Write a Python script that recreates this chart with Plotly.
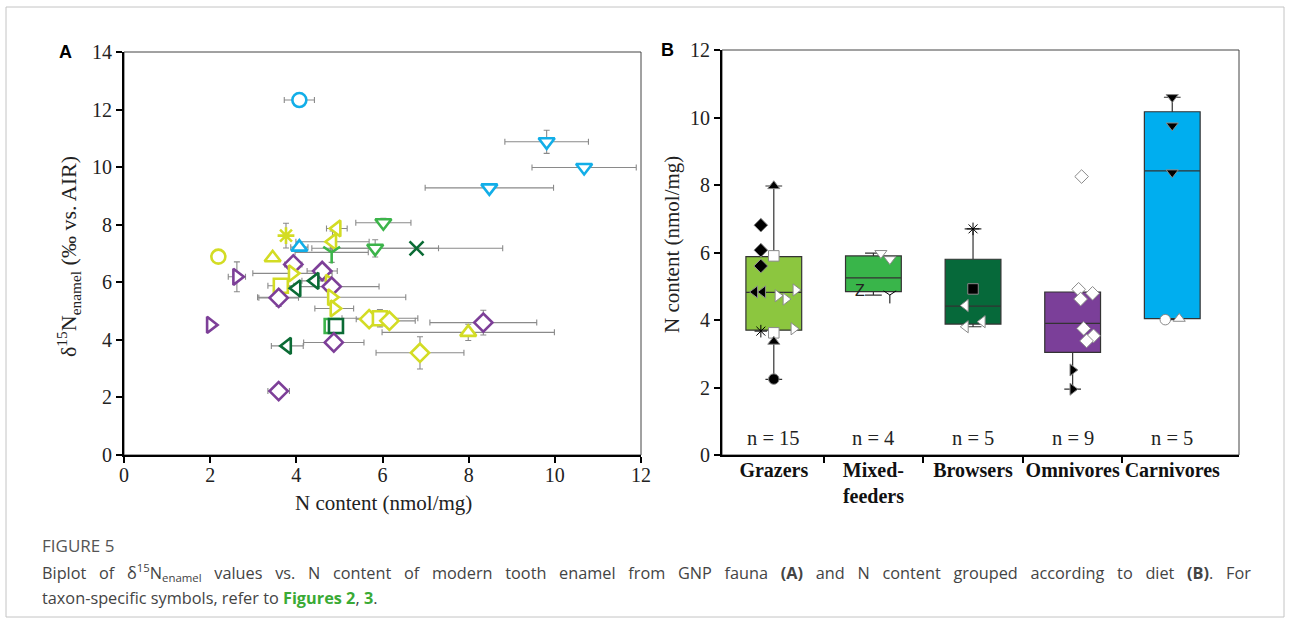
import plotly.graph_objects as go

W, H = 1290, 630

# ---------------- Panel A data: N content vs d15N enamel ----------------
a_n = [4.07, 9.81, 10.68, 8.48, 4.07,
       3.76, 2.19, 3.45, 4.94, 4.84,
       6.02, 5.83, 6.79, 4.82,
       3.93, 2.62, 3.91, 4.60, 4.43, 4.77,
       4.82, 3.64, 4.01, 3.59, 4.82, 4.88,
       2.01, 4.82, 4.92, 5.69, 5.94, 6.16,
       8.34, 7.99, 6.87, 3.79, 4.87, 3.59]
a_d15n = [12.33, 10.88, 9.99, 9.28, 7.22,
          7.62, 6.89, 6.85, 7.87, 7.41,
          8.07, 7.18, 7.18, 7.04,
          6.62, 6.19, 6.31, 6.39, 6.05, 5.98,
          5.85, 5.88, 5.79, 5.46, 5.48, 5.09,
          4.52, 4.48, 4.48, 4.72, 4.75, 4.66,
          4.60, 4.26, 3.55, 3.79, 3.91, 2.22]
a_n_err = [0.35, 0.97, 1.21, 1.49, 0.20,
           0, 0, 0, 0.24, 0.85,
           0.64, 1.47, 2.00, 0.85,
           0.20, 0.20, 0.92, 0.35, 0.30, 0,
           1.10, 0.30, 0, 0.46, 1.72, 0.45,
           0.05, 0, 0, 0.30, 0.88, 0.60,
           1.24, 2.00, 1.02, 0.37, 0.70, 0.25]
a_d15n_err = [0, 0.40, 0.10, 0.15, 0.15,
              0.43, 0, 0, 0.10, 0.37,
              0.15, 0.30, 0, 0.35,
              0, 0.52, 0, 0.15, 0, 0.20,
              0, 0, 0, 0.30, 0, 0,
              0, 0.15, 0, 0, 0.30, 0,
              0.43, 0.28, 0.56, 0, 0, 0]
a_diet = ["Carnivore"] * 5 + ["Grazer"] * 5 + ["Mixed-feeder", "Mixed-feeder", "Browser", "Mixed-feeder",
          "Omnivore", "Omnivore", "Grazer", "Omnivore", "Browser", "Grazer",
          "Omnivore", "Grazer", "Browser", "Omnivore", "Grazer", "Grazer",
          "Omnivore", "Mixed-feeder", "Browser", "Grazer", "Grazer", "Grazer",
          "Omnivore", "Grazer", "Grazer", "Browser", "Omnivore", "Omnivore"]
a_taxon = ["circle", "tri-down", "tri-down", "tri-down", "tri-up",
           "asterisk", "circle", "tri-up", "tri-left", "tri-left",
           "tri-down", "tri-down", "x", "y",
           "diamond", "tri-right", "tri-right", "diamond", "tri-left", "tri-right",
           "diamond", "square", "tri-left", "diamond", "tri-right", "tri-right",
           "tri-right", "square", "square", "diamond", "square", "diamond",
           "diamond", "tri-up", "diamond", "tri-left", "diamond", "diamond"]

# ---------------- Panel B data: N content by diet ----------------
b_groups = ["Grazers", "Mixed-<br>feeders", "Browsers", "Omnivores", "Carnivores"]
b_q1 = [3.70, 4.84, 3.88, 3.04, 4.04]
b_median = [4.82, 5.25, 4.41, 3.90, 8.42]
b_q3 = [5.88, 5.90, 5.80, 4.83, 10.17]
b_lowerfence = [2.24, 4.74, 3.80, 1.95, 4.01]
b_upperfence = [7.97, 5.98, 6.70, 4.83, 10.60]
b_counts = [15, 4, 5, 9, 5]

b_pt_group = [0] * 15 + [1] * 4 + [2] * 5 + [3] * 9 + [4] * 5
b_pt_n = [7.97, 6.81, 6.07, 5.60, 5.90, 4.83, 4.83, 4.72, 4.62, 4.89, 3.67, 3.62, 3.74, 3.36, 2.25,
          5.98, 5.80, 4.84, 4.74,
          6.70, 4.92, 4.43, 3.95, 3.80,
          8.25, 4.91, 4.79, 4.62, 3.75, 3.53, 3.38, 2.52, 1.95,
          10.60, 9.76, 8.37, 4.01, 4.04]
b_pt_offset = [0.0, -0.13, -0.13, -0.13, 0.0, -0.19, -0.11, 0.04, 0.12, 0.22, -0.13, 0.0, 0.20, 0.0, 0.0,
               0.075, 0.165, -0.135, 0.165,
               0.0, 0.0, -0.075, 0.095, -0.075,
               0.09, 0.06, 0.20, 0.08, 0.11, 0.21, 0.14, 0.0, 0.0,
               0.0, 0.0, 0.0, -0.07, 0.07]
b_pt_taxon = ["tri-up", "diamond", "diamond", "diamond", "square", "tri-left", "tri-left", "tri-right",
              "tri-right", "tri-right", "asterisk", "square", "tri-right", "tri-up", "circle",
              "tri-down", "tri-down", "Z", "y",
              "asterisk", "square", "tri-left", "tri-left", "tri-left",
              "diamond", "diamond", "diamond", "diamond", "diamond", "diamond", "diamond", "tri-right", "tri-right",
              "tri-down", "tri-down", "tri-down", "circle", "tri-up"]
b_pt_fill = ["black", "black", "black", "black", "white", "black", "black", "white", "white", "white",
             "black", "white", "white", "black", "black",
             "white", "white", "black", "black",
             "black", "black", "white", "white", "white",
             "white", "white", "white", "white", "white", "white", "white", "black", "black",
             "black", "black", "black", "white", "white"]

# ---------------- styles ----------------
diet_color_a = {"Grazer": "#d3dc24", "Mixed-feeder": "#3cb44a", "Browser": "#0b6b35",
                "Omnivore": "#7d3f98", "Carnivore": "#12aee8"}
box_color = ["#8cc63f", "#39b54a", "#06693a", "#7b3f99", "#00aeef"]
sym = {"circle": "circle", "tri-up": "triangle-up", "tri-down": "triangle-down",
       "tri-left": "triangle-left", "tri-right": "triangle-right",
       "square": "square", "diamond": "diamond", "asterisk": "asterisk-open",
       "x": "x-thin-open", "y": "y-down-open"}
line_only = {"asterisk", "x", "y"}

SERIF = "Liberation Serif"
SANS = "Liberation Sans"

fig = go.Figure()

# Panel A scatter with error bars (white-filled markers with coloured outline)
a_cols = [diet_color_a[d] for d in a_diet]
fig.add_trace(go.Scatter(
    x=a_n, y=a_d15n, mode="markers", xaxis="x", yaxis="y",
    error_x=dict(type="data", array=a_n_err, visible=True, color="#8a8a8a", thickness=1.1, width=3),
    error_y=dict(type="data", array=a_d15n_err, visible=True, color="#8a8a8a", thickness=1.1, width=3),
    marker=dict(symbol=[sym[t] for t in a_taxon],
                color=[c if t in line_only else "white" for c, t in zip(a_cols, a_taxon)],
                size=14, line=dict(width=2.6, color=a_cols)),
    showlegend=False, hoverinfo="skip"))

# Panel B boxes
for i in range(len(b_groups)):
    fig.add_trace(go.Box(
        x=[i], q1=[b_q1[i]], median=[b_median[i]], q3=[b_q3[i]],
        lowerfence=[b_lowerfence[i]], upperfence=[b_upperfence[i]],
        width=0.56, whiskerwidth=0.3, fillcolor=box_color[i],
        line=dict(color="#333333", width=1.2), boxpoints=False,
        xaxis="x2", yaxis="y2", showlegend=False, hoverinfo="skip"))

# Panel B points
pts = [k for k in range(len(b_pt_n)) if b_pt_taxon[k] != "Z"]
fig.add_trace(go.Scatter(
    x=[b_pt_group[k] + b_pt_offset[k] for k in pts],
    y=[b_pt_n[k] for k in pts], mode="markers", xaxis="x2", yaxis="y2",
    marker=dict(symbol=[sym[b_pt_taxon[k]] for k in pts],
                color=[b_pt_fill[k] for k in pts],
                size=10.5, line=dict(width=1, color="#8a8a8a")),
    showlegend=False, hoverinfo="skip"))
zpts = [k for k in range(len(b_pt_n)) if b_pt_taxon[k] == "Z"]
fig.add_trace(go.Scatter(
    x=[b_pt_group[k] + b_pt_offset[k] for k in zpts],
    y=[b_pt_n[k] for k in zpts], mode="text", text=["Z"] * len(zpts),
    textfont=dict(family=SANS, size=16, color="#222"), xaxis="x2", yaxis="y2",
    showlegend=False, hoverinfo="skip"))


def px(xp):
    return xp / W


def py(yp):
    return 1 - yp / H


axis_common = dict(showline=True, linewidth=2, linecolor="black", ticks="outside", ticklen=6,
                   tickwidth=2, tickcolor="black", showgrid=False, zeroline=False, automargin=False,
                   tickfont=dict(family=SERIF, size=20, color="#222"))

fig.update_layout(
    width=W, height=H, margin=dict(l=0, r=0, t=0, b=0, pad=0, autoexpand=False),
    paper_bgcolor="white", plot_bgcolor="white",
    xaxis=dict(domain=[px(124), px(641)], range=[0, 12], tickvals=[0, 2, 4, 6, 8, 10, 12],
               anchor="y", ticklabelstandoff=-5, **axis_common),
    yaxis=dict(domain=[py(455), py(52)], range=[0, 14], tickvals=[0, 2, 4, 6, 8, 10, 12, 14],
               anchor="x", **axis_common),
    xaxis2=dict(domain=[px(722), px(1239)], range=[-0.52, 4.67], anchor="y2",
                tickvals=[0, 1, 2, 3, 4], ticktext=["<b>%s</b>" % g for g in b_groups],
                tickangle=0,
                showline=True, linewidth=2, linecolor="black", ticks="", showgrid=False, zeroline=False,
                automargin=False, ticklabelstandoff=-4,
                tickfont=dict(family=SERIF, size=20, color="#111"),
                minor=dict(tickvals=[0.5, 1.5, 2.5, 3.5], ticks="outside", ticklen=6, tickwidth=2,
                           tickcolor="black")),
    yaxis2=dict(domain=[py(455), py(50)], range=[0, 12], tickvals=[0, 2, 4, 6, 8, 10, 12],
                anchor="x2", **axis_common),
)

shapes = [
    dict(type="rect", xref="x domain", yref="y domain", x0=0, x1=1, y0=0, y1=1,
         line=dict(color="#444", width=1), layer="below"),
    dict(type="rect", xref="x2 domain", yref="y2 domain", x0=0, x1=1, y0=0, y1=1,
         line=dict(color="#444", width=1), layer="below"),
    dict(type="rect", xref="paper", yref="paper", x0=px(6), x1=px(1284), y0=py(617), y1=py(7),
         line=dict(color="#c4c4c4", width=1)),
]
fig.update_layout(shapes=shapes)

NB = "\u00a0\u00a0 "
line1_words = ["Biplot", "of", "δ<sup>15</sup>N<sub>enamel</sub>", "values", "vs.", "N", "content", "of",
               "modern", "tooth", "enamel", "from", "GNP", "fauna", "<b>(A)</b>", "and", "N", "content",
               "grouped", "according", "to", "diet", "<b>(B)</b>.", "For"]

ann = [
    dict(x=px(65), y=py(52), text="<b>A</b>", font=dict(family=SANS, size=18, color="black")),
    dict(x=px(667), y=py(50), text="<b>B</b>", font=dict(family=SANS, size=18, color="black")),
    dict(x=px(68), y=py(257), text="δ<sup>15</sup>N<sub>enamel</sub> (‰ vs. AIR)", textangle=-90,
         font=dict(family=SERIF, size=22, color="#222")),
    dict(x=px(383), y=py(503), text="N content (nmol/mg)", font=dict(family=SERIF, size=21, color="#222")),
    dict(x=px(672), y=py(245), text="N content (nmol/mg)", textangle=-90,
         font=dict(family=SERIF, size=21, color="#222")),
    dict(x=px(40), y=py(545), xanchor="left", text="FIGURE 5",
         font=dict(family="Open Sans", size=17, color="#555")),
    dict(x=px(40), y=py(572), xanchor="left", text=NB.join(line1_words),
         font=dict(family="Open Sans", size=16.3, color="#444")),
    dict(x=px(40), y=py(598), xanchor="left",
         text="taxon-specific symbols, refer to <b><span style='color:#3aaa35'>Figures 2</span></b>, "
              "<b><span style='color:#3aaa35'>3</span></b>.",
         font=dict(family="Open Sans", size=16.3, color="#444")),
]
for a in ann:
    a.setdefault("xref", "paper")
    a.setdefault("yref", "paper")
    a.setdefault("xanchor", "center")
    a.setdefault("yanchor", "middle")
    a["showarrow"] = False
for i, c in enumerate(b_counts):
    ann.append(dict(x=i, y=0.5, xref="x2", yref="y2", text="n = %d" % c, showarrow=False,
                    xanchor="center", yanchor="middle",
                    font=dict(family=SERIF, size=20.5, color="#222")))
fig.update_layout(annotations=ann)

fig.write_html("out.html", config={"displayModeBar": False},
               post_script="document.body.style.margin='0px';")
